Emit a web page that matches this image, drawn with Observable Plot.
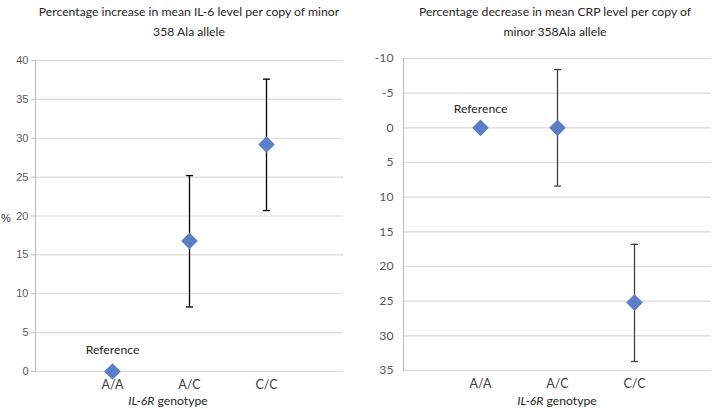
<!DOCTYPE html>
<html>
<head>
<meta charset="utf-8">
<script src="https://cdn.jsdelivr.net/npm/d3@7"></script>
<script src="https://cdn.jsdelivr.net/npm/@observablehq/plot@0.6"></script>
<style>
  html, body { margin: 0; padding: 0; background: #fff; }
  #wrap { position: relative; width: 714px; height: 409px; overflow: hidden; font-family: Lato, "Open Sans", sans-serif; color: #333; }
  .abs { position: absolute; }
  .title { font-size: 12.2px; line-height: 20px; text-align: center; color: #262626; white-space: nowrap; }
  .xtitle { font-size: 12.2px; text-align: center; color: #262626; white-space: nowrap; }
</style>
</head>
<body>
<div id="wrap">
  <div id="left" class="abs" style="left:0;top:0"></div>
  <div id="right" class="abs" style="left:357px;top:0"></div>
  <div class="abs title" style="left:19px;top:2px;width:340px">Percentage increase in mean IL-6 level per copy of minor<br>358 Ala allele</div>
  <div class="abs title" style="left:385px;top:2px;width:340px">Percentage decrease in mean CRP level per copy of<br>minor 358Ala allele</div>
  <div class="abs xtitle" style="left:68px;top:393px;width:200px"><i>IL-6R</i> genotype</div>
  <div class="abs xtitle" style="left:457px;top:393px;width:200px"><i>IL-6R</i> genotype</div>
  <div class="abs" style="left:1px;top:212px;font-family:'Liberation Sans',Arial,sans-serif;font-size:11px;color:#333">%</div>
</div>
<script>
// ---- data ----
const genotypes = ["A/A", "A/C", "C/C"];
const il6Est = [0, 16.8, 29.2];
const il6Lo  = [null, 8.3, 20.7];
const il6Hi  = [null, 25.2, 37.6];
const crpEst = [0, 0, 25.2];
const crpLo  = [null, -8.4, 16.8];
const crpHi  = [null, 8.4, 33.7];
const il6Ticks = [0, 5, 10, 15, 20, 25, 30, 35, 40];
const crpTicks = [-10, -5, 0, 5, 10, 15, 20, 25, 30, 35];
const refLabel = "Reference";

const il6Rows = genotypes.map((g, i) => ({g, est: il6Est[i], lo: il6Lo[i], hi: il6Hi[i]}));
const crpRows = genotypes.map((g, i) => ({g, est: crpEst[i], lo: crpLo[i], hi: crpHi[i]}));

const blue = "#5b7ec8";
const grid = "#d9d9d9";
// horizontal cap symbol for error bars
const capSymbol = {draw(ctx) { ctx.moveTo(-3.5, 0); ctx.lineTo(3.5, 0); }};

function panel(rows, ticks, opts) {
  const bars = rows.filter(d => d.lo != null);
  return Plot.plot({
    width: 357,
    height: 409,
    marginLeft: opts.ml,
    marginRight: opts.mr,
    marginTop: opts.mt,
    marginBottom: opts.mb,
    style: {background: "transparent", fontFamily: "Lato, 'Open Sans', sans-serif"},
    x: {type: "point", domain: genotypes, padding: 1, label: null},
    y: {domain: opts.domain, reverse: opts.reverse, label: null},
    marks: [
      Plot.gridY(ticks, {stroke: grid, strokeOpacity: 1, strokeWidth: 1.2}),
      Plot.frame({anchor: "left", stroke: "#bfbfbf", strokeWidth: 1.2}),
      Plot.axisY(ticks, {
        tickSize: opts.ytickSize, tickPadding: opts.ytickPad,
        tickFormat: d => String(d),
        stroke: "#bfbfbf", fill: "#595959",
        fontSize: opts.yFontSize, fontFamily: opts.yFont, label: null
      }),
      Plot.axisX({tickSize: 0, tickPadding: 9, fill: "#404040", fontSize: 12.5, fontFamily: "Lato, 'Open Sans', sans-serif", label: null}),
      Plot.ruleX(bars, {x: "g", y1: "lo", y2: "hi", stroke: opts.barColor, strokeWidth: 1.3}),
      Plot.dot(bars, {x: "g", y: "lo", symbol: capSymbol, r: 3, fill: "none", stroke: opts.barColor, strokeWidth: 1.3}),
      Plot.dot(bars, {x: "g", y: "hi", symbol: capSymbol, r: 3, fill: "none", stroke: opts.barColor, strokeWidth: 1.3}),
      Plot.dot(rows, {x: "g", y: "est", symbol: "diamond2", r: 7.5, fill: blue, stroke: "none"}),
      Plot.text(rows.filter(d => d.lo == null), {x: "g", y: "est", text: () => refLabel, dy: opts.refDy, fontSize: 12.2, fill: "#262626"})
    ]
  });
}

document.getElementById("left").append(panel(il6Rows, il6Ticks, {
  ml: 35, mr: 14, mt: 60, mb: 38, domain: [0, 40], reverse: false,
  ytickSize: 4, ytickPad: 3, yFontSize: 11, yFont: "'Liberation Sans', Arial, sans-serif",
  barColor: "#000", refDy: -21
}));
document.getElementById("right").append(panel(crpRows, crpTicks, {
  ml: 46, mr: 3, mt: 58, mb: 39, domain: [-10, 35], reverse: true,
  ytickSize: 0, ytickPad: 10, yFontSize: 12.2, yFont: "Lato, 'Open Sans', sans-serif",
  barColor: "#404040", refDy: -19
}));
</script>
</body>
</html>
